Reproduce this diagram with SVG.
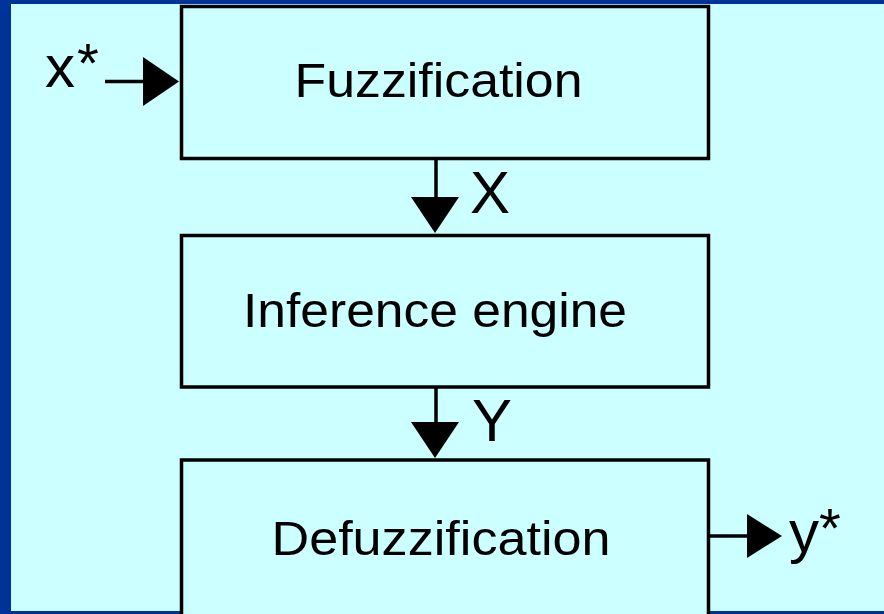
<svg xmlns="http://www.w3.org/2000/svg" width="884" height="614" viewBox="0 0 884 614">
  <style>
    .box { fill: #CCFFFF; stroke: #000000; stroke-width: 3.5; }
    .wire { stroke: #000000; stroke-width: 3.5; fill: none; }
    .head { fill: #000000; }
    .label { font-family: "Liberation Sans", Arial, sans-serif; fill: #000000; }
    .big { font-size: 48px; text-anchor: middle; }
    .sig { font-size: 60px; }
    .star { font-size: 56px; }
  </style>
  <!-- slide frame -->
  <rect x="0" y="0" width="884" height="614" fill="#003399"/>
  <rect x="11" y="4" width="873" height="607" fill="#CCFFFF"/>

  <g id="fuzzification">
    <rect class="box" x="181.5" y="6.5" width="527" height="152"/>
    <text class="label big" x="438.5" y="97" textLength="288" lengthAdjust="spacingAndGlyphs">Fuzzification</text>
  </g>
  <g id="inference-engine">
    <rect class="box" x="181.5" y="235.5" width="527" height="151.5"/>
    <text class="label big" x="435" y="327" textLength="384" lengthAdjust="spacingAndGlyphs">Inference engine</text>
  </g>
  <g id="defuzzification">
    <rect class="box" x="181.5" y="460" width="527" height="160"/>
    <text class="label big" x="441" y="555" textLength="339" lengthAdjust="spacingAndGlyphs">Defuzzification</text>
  </g>

  <g id="connectors">
    <!-- input x* -->
    <line class="wire" x1="105" y1="81.5" x2="145" y2="81.5"/>
    <polygon class="head" points="143,57 179,81.5 143,106"/>
    <!-- Fuzzification to inference -->
    <line class="wire" x1="436" y1="158" x2="436" y2="200"/>
    <polygon class="head" points="411,197 459,197 435,233"/>
    <!-- inference to defuzzification -->
    <line class="wire" x1="436" y1="387" x2="436" y2="425"/>
    <polygon class="head" points="411,422 459,422 435,458"/>
    <!-- output y* -->
    <line class="wire" x1="709" y1="536" x2="750" y2="536"/>
    <polygon class="head" points="747,514 782,536 747,558"/>
  </g>

  <g id="signal-labels">
    <text class="label sig" x="45" y="87">x</text>
    <text class="label star" x="77" y="82">*</text>
    <text class="label sig" x="470" y="213">X</text>
    <text class="label sig" x="472" y="441">Y</text>
    <text class="label sig" x="789" y="552">y</text>
    <text class="label star" x="819" y="547">*</text>
  </g>
</svg>
